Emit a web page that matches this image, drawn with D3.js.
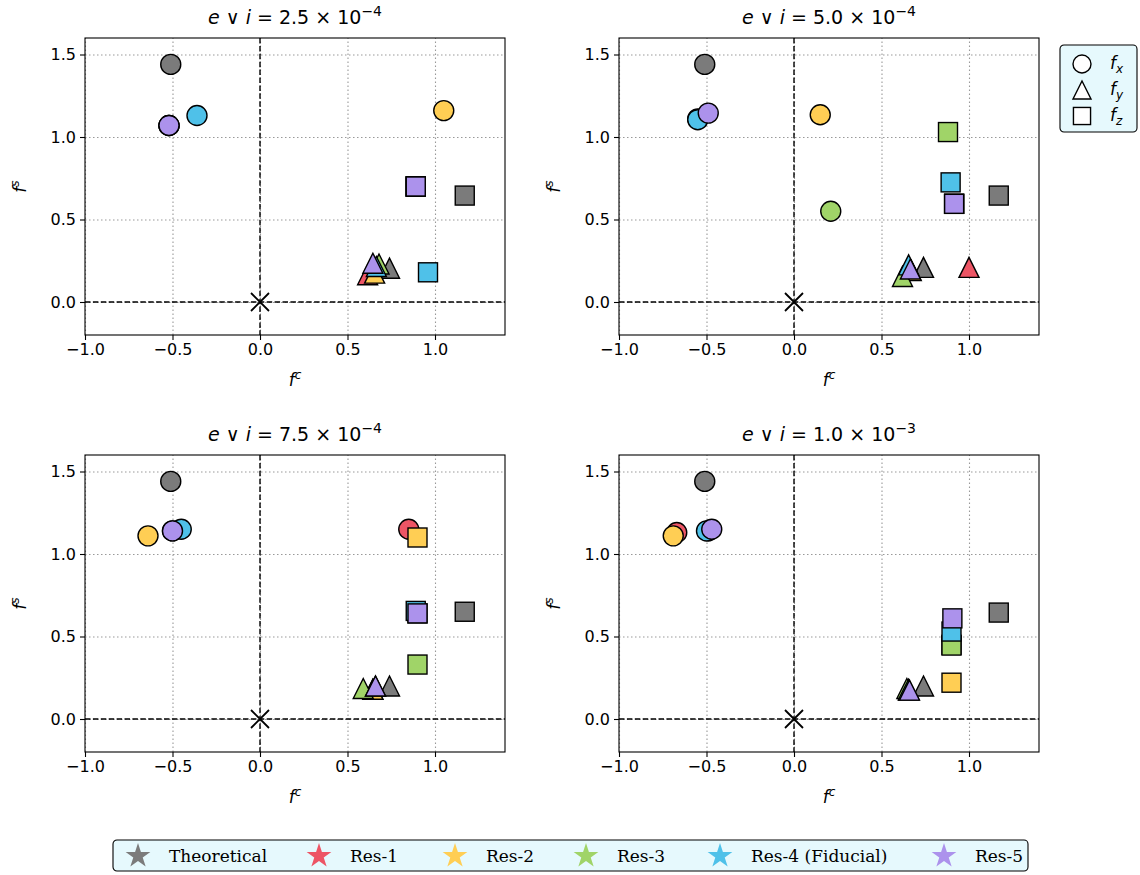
<!DOCTYPE html>
<html>
<head>
<meta charset="utf-8">
<script src="https://cdn.jsdelivr.net/npm/d3@7/dist/d3.min.js"></script>
<style>
  body { margin: 0; background: #fff; }
  .grid line { stroke: #999; stroke-dasharray: 1.5,2.5; stroke-width: 1.1; }
  .grid path { display: none; }
</style>
</head>
<body>
<div id="chart"></div>
<script>
// series in plotting order
const seriesNames = ["Theoretical", "Res-1", "Res-2", "Res-3", "Res-4 (Fiducial)", "Res-5"];
const seriesColors = ["#7b7b7b", "#ED5565", "#FFCE54", "#A0D468", "#4FC1E9", "#AC92EC"];

// panel titles: mantissa, exponent
const titleMantissa = ["2.5", "5.0", "7.5", "1.0"];
const titleExponent = ["\u22124", "\u22124", "\u22124", "\u22123"];

const xTicks = [-1.0, -0.5, 0.0, 0.5, 1.0];
const yTicks = [0.0, 0.5, 1.0, 1.5];

// [f^c, f^s] per series, one array per panel and component
const p1Fx = [[-0.51, 1.44], [-0.52, 1.07], [1.05, 1.16], [-0.52, 1.07], [-0.36, 1.13], [-0.52, 1.07]];
const p1Fy = [[0.74, 0.205], [0.615, 0.165], [0.655, 0.175], [0.68, 0.23], [0.665, 0.215], [0.645, 0.235]];
const p1Fz = [[1.17, 0.645], [0.89, 0.70], [0.89, 0.70], [0.89, 0.70], [0.96, 0.18], [0.89, 0.70]];

const p2Fx = [[-0.51, 1.44], [-0.55, 1.11], [0.15, 1.135], [0.21, 0.55], [-0.55, 1.105], [-0.49, 1.145]];
const p2Fy = [[0.74, 0.21], [1.0, 0.21], [0.67, 0.19], [0.62, 0.155], [0.655, 0.225], [0.665, 0.20]];
const p2Fz = [[1.17, 0.645], [0.915, 0.595], [0.915, 0.595], [0.88, 1.03], [0.895, 0.725], [0.915, 0.595]];

const p3Fx = [[-0.51, 1.44], [0.85, 1.15], [-0.64, 1.11], [-0.50, 1.14], [-0.45, 1.15], [-0.50, 1.14]];
const p3Fy = [[0.74, 0.20], [0.645, 0.18], [0.645, 0.18], [0.59, 0.185], [0.66, 0.20], [0.66, 0.20]];
const p3Fz = [[1.17, 0.65], [0.90, 0.64], [0.90, 1.10], [0.90, 0.33], [0.89, 0.655], [0.90, 0.64]];

const p4Fx = [[-0.51, 1.44], [-0.67, 1.13], [-0.69, 1.11], [-0.49, 1.14], [-0.50, 1.14], [-0.47, 1.15]];
const p4Fy = [[0.74, 0.20], [0.655, 0.175], [0.655, 0.175], [0.645, 0.185], [0.655, 0.18], [0.66, 0.175]];
const p4Fz = [[1.17, 0.645], [0.90, 0.45], [0.90, 0.22], [0.90, 0.445], [0.90, 0.53], [0.905, 0.61]];

const panelData = [
  [p1Fx, p1Fy, p1Fz],
  [p2Fx, p2Fy, p2Fz],
  [p3Fx, p3Fy, p3Fz],
  [p4Fx, p4Fy, p4Fz]
];

const svgWidth = 1140, svgHeight = 875;
const panelW = 420, panelH = 297;
const panelPos = [
  { left: 85, top: 38 },
  { left: 619, top: 38 },
  { left: 85, top: 455 },
  { left: 619, top: 455 }
];

const svg = d3.select("#chart").append("svg")
  .attr("width", svgWidth)
  .attr("height", svgHeight)
  .style("font-family", "DejaVu Sans, sans-serif");

const x = d3.scaleLinear().domain([-1.0, 1.4]).range([0, panelW]);
const y = d3.scaleLinear().domain([-0.2, 1.6]).range([panelH, 0]);

// marker drawers: circle, triangle-up, square
function drawMarker(sel, shape, cx, cy, size, fill) {
  if (shape === 0) {
    sel.append("circle").attr("cx", cx).attr("cy", cy).attr("r", size / 2)
      .attr("fill", fill).attr("stroke", "#000").attr("stroke-width", 1.4);
  } else if (shape === 1) {
    const h = size / 2;
    sel.append("path")
      .attr("d", `M${cx},${cy - h}L${cx - h},${cy + h}L${cx + h},${cy + h}Z`)
      .attr("fill", fill).attr("stroke", "#000").attr("stroke-width", 1.4)
      .attr("stroke-linejoin", "miter");
  } else {
    const h = size * 0.95 / 2;
    sel.append("rect").attr("x", cx - h).attr("y", cy - h)
      .attr("width", 2 * h).attr("height", 2 * h)
      .attr("fill", fill).attr("stroke", "#000").attr("stroke-width", 1.4);
  }
}

panelPos.forEach((pos, pi) => {
  const g = svg.append("g").attr("transform", `translate(${pos.left},${pos.top})`);

  // grid
  g.append("g").attr("class", "grid")
    .attr("transform", `translate(0,${panelH})`)
    .call(d3.axisBottom(x).tickValues(xTicks).tickSize(-panelH).tickFormat(""));
  g.append("g").attr("class", "grid")
    .call(d3.axisLeft(y).tickValues(yTicks).tickSize(-panelW).tickFormat(""));

  // dashed reference lines
  g.append("line").attr("x1", x(0)).attr("x2", x(0)).attr("y1", 0).attr("y2", panelH)
    .attr("stroke", "#000").attr("stroke-width", 1.4).attr("stroke-dasharray", "5.5,2.4");
  g.append("line").attr("x1", 0).attr("x2", panelW).attr("y1", y(0)).attr("y2", y(0))
    .attr("stroke", "#000").attr("stroke-width", 1.4).attr("stroke-dasharray", "5.5,2.4");

  // origin cross
  const ox = x(0), oy = y(0), cs = 9;
  g.append("path")
    .attr("d", `M${ox - cs},${oy - cs}L${ox + cs},${oy + cs}M${ox - cs},${oy + cs}L${ox + cs},${oy - cs}`)
    .attr("stroke", "#000").attr("stroke-width", 1.8);

  // points
  const pts = g.append("g");
  seriesNames.forEach((name, si) => {
    panelData[pi].forEach((comp, ci) => {
      const d = comp[si];
      drawMarker(pts, ci, x(d[0]), y(d[1]), 20, seriesColors[si]);
    });
  });

  // frame
  g.append("rect").attr("width", panelW).attr("height", panelH)
    .attr("fill", "none").attr("stroke", "#000").attr("stroke-width", 1.1);

  // axes
  const fmt = v => d3.format(".1f")(v).replace("-", "\u2212");
  const xa = g.append("g").attr("transform", `translate(0,${panelH})`)
    .call(d3.axisBottom(x).tickValues(xTicks).tickSize(5).tickPadding(4).tickFormat(fmt));
  const ya = g.append("g")
    .call(d3.axisLeft(y).tickValues(yTicks).tickSize(5).tickPadding(4).tickFormat(fmt));
  [xa, ya].forEach(a => {
    a.attr("font-size", null).attr("font-family", null);
    a.select(".domain").remove();
    a.selectAll(".tick line").attr("stroke", "#000").attr("stroke-width", 1.1);
    a.selectAll(".tick text").style("font-size", "16px")
      .style("font-family", "DejaVu Sans, sans-serif").attr("fill", "#000");
  });

  // axis labels
  const xl = g.append("text").attr("x", panelW / 2).attr("y", panelH + 51)
    .attr("text-anchor", "middle").style("font-size", "17px");
  xl.append("tspan").style("font-style", "italic").text("f");
  xl.append("tspan").attr("dy", -7).style("font-size", "12px").style("font-style", "italic").text("c");

  const yl = g.append("text")
    .attr("transform", `translate(-59,${panelH / 2}) rotate(-90)`)
    .attr("text-anchor", "middle").style("font-size", "17px");
  yl.append("tspan").style("font-style", "italic").text("f");
  yl.append("tspan").attr("dy", -7).style("font-size", "12px").style("font-style", "italic").text("s");

  // title
  const t = g.append("text").attr("x", panelW / 2).attr("y", -14)
    .attr("text-anchor", "middle").style("font-size", "19px");
  t.append("tspan").style("font-style", "italic").text("e");
  t.append("tspan").text(" \u2228 ");
  t.append("tspan").style("font-style", "italic").text("i");
  t.append("tspan").text(" = " + titleMantissa[pi] + " \u00d7 10");
  t.append("tspan").attr("dy", -8).style("font-size", "14px").text(titleExponent[pi]);
});

// component legend (top right)
const cl = svg.append("g").attr("transform", "translate(1060,45)");
cl.append("rect").attr("width", 77).attr("height", 87).attr("rx", 4)
  .attr("fill", "#e6f9fd").attr("stroke", "#000").attr("stroke-width", 1.1);
const compLabels = ["x", "y", "z"];
compLabels.forEach((c, i) => {
  const cy = 19 + i * 26;
  drawMarker(cl, i, 22, cy, 18, "#fff");
  const tx = cl.append("text").attr("x", 50).attr("y", cy + 5).style("font-size", "17px");
  tx.append("tspan").style("font-style", "italic").text("f");
  tx.append("tspan").attr("dy", 4).style("font-size", "12px").style("font-style", "italic").text(c);
});

// series legend (bottom)
const sl = svg.append("g").attr("transform", "translate(113,840)");
sl.append("rect").attr("width", 915).attr("height", 31).attr("rx", 4)
  .attr("fill", "#e6f9fd").attr("stroke", "#000").attr("stroke-width", 1.1);
const starX = [25, 206, 342, 473, 607, 831];
const star = d3.symbol().type(d3.symbolStar).size(190);
seriesNames.forEach((name, i) => {
  sl.append("path").attr("d", star).attr("transform", `translate(${starX[i]},16)`)
    .attr("fill", seriesColors[i]);
  sl.append("text").attr("x", starX[i] + 31).attr("y", 22)
    .style("font-family", "DejaVu Serif, serif").style("font-size", "17px")
    .text(name);
});
</script>
</body>
</html>
